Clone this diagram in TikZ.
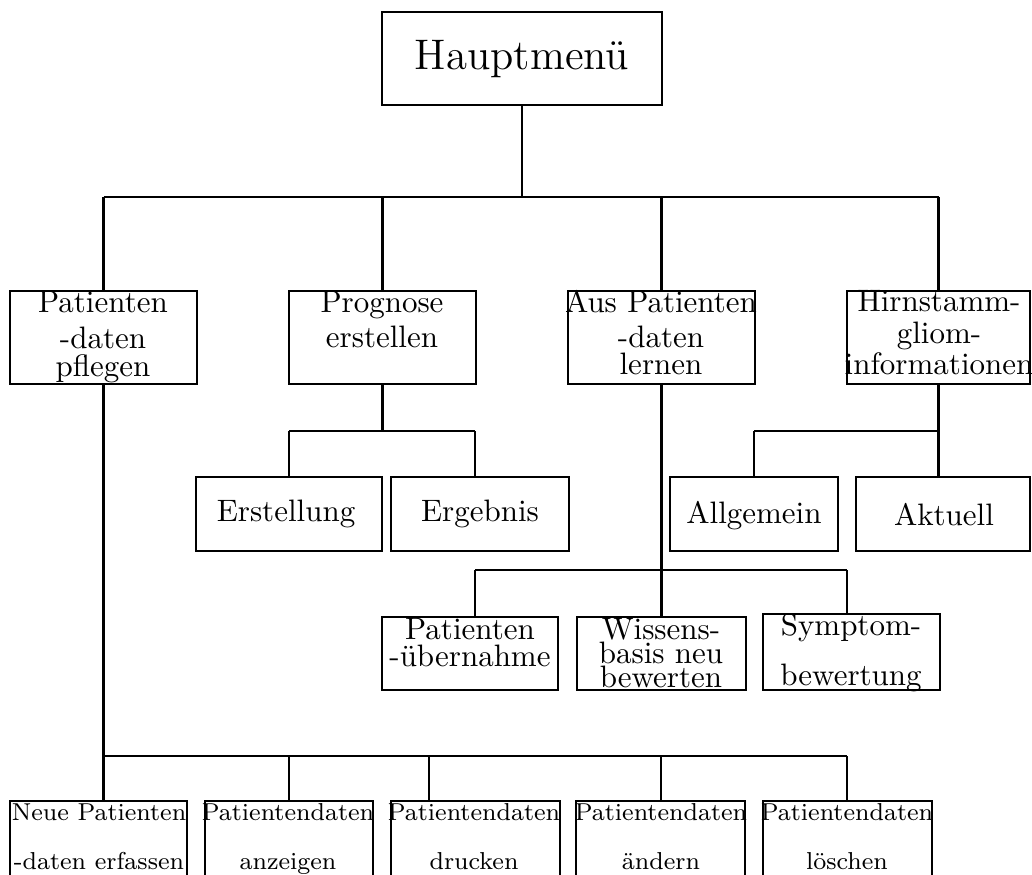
\documentclass[tikz,border=0pt]{standalone}
\usepackage{tikz}

\newcommand{\pxu}{0.3226pt}

\begin{document}
\begin{tikzpicture}[x=0.3226pt, y=-0.3226pt]
        \tikzstyle{box} = [draw, line width=0.8pt, inner sep=0pt]
        \tikzstyle{line} = [line width=0.75pt]
        \tikzstyle{txt} = [inner sep=0pt, anchor=base, align=center, font=\fontsize{10}{12}\selectfont]
        \tikzstyle{small} = [txt, font=\fontsize{7.9}{15.8}\selectfont]
        \useasboundingbox (0,0) rectangle (1032,875);
        \clip (0,0) rectangle (1032,875);

        % boxes
        \node[box, minimum width=280*\pxu, minimum height=93*\pxu] (haupt) at (522,58.5) {};
        \node[box, minimum width=187*\pxu, minimum height=93*\pxu] (pflegen) at (103.5,337.5) {};
        \node[box, minimum width=187*\pxu, minimum height=93*\pxu] (prog) at (382.5,337.5) {};
        \node[box, minimum width=187*\pxu, minimum height=93*\pxu] (lernen) at (661.5,337.5) {};
        \node[box, minimum width=183*\pxu, minimum height=93*\pxu] (hirn) at (938.5,337.5) {};
        \node[box, minimum width=186*\pxu, minimum height=74*\pxu] (erst) at (289,514) {};
        \node[box, minimum width=178*\pxu, minimum height=74*\pxu] (ergeb) at (480,514) {};
        \node[box, minimum width=168*\pxu, minimum height=74*\pxu] (allg) at (754,514) {};
        \node[box, minimum width=174*\pxu, minimum height=74*\pxu] (aktuell) at (943,514) {};
        \node[box, minimum width=176*\pxu, minimum height=73*\pxu] (uebern) at (470,653.5) {};
        \node[box, minimum width=169*\pxu, minimum height=73*\pxu] (wissen) at (661.5,653.5) {};
        \node[box, minimum width=177*\pxu, minimum height=76*\pxu] (sympt) at (851.5,652) {};
        \node[box, minimum width=177*\pxu, minimum height=100*\pxu] (neu) at (98.5,851) {};
        \node[box, minimum width=168*\pxu, minimum height=100*\pxu] (anz) at (289,851) {};
        \node[box, minimum width=169*\pxu, minimum height=100*\pxu] (druck) at (475.5,851) {};
        \node[box, minimum width=169*\pxu, minimum height=100*\pxu] (aend) at (660.5,851) {};
        \node[box, minimum width=169*\pxu, minimum height=100*\pxu] (loesch) at (847.5,851) {};

        % texts (anchored at the baseline of their last line)
        \node[txt, font=\fontsize{13.8}{16}\selectfont] (hauptT) at (522,70) {Hauptmenü};
        \node[txt, font=\fontsize{10}{9.35}\selectfont] (pflegenT) at (103,377) {Patienten\\[1.95pt]-daten\\pflegen};
        \node[txt, font=\fontsize{10}{11.3}\selectfont] (progT) at (382,348) {Prognose\\erstellen};
        \node[txt, font=\fontsize{10}{8.9}\selectfont] (lernenT) at (661,375) {Aus Patienten\\[2.4pt]-daten\\lernen};
        \node[txt, font=\fontsize{10}{10.2}\selectfont] (hirnT) at (939,375) {Hirnstamm-\\gliom-\\informationen};
        \node[txt] (erstT) at (286,521) {Erstellung};
        \node[txt] (ergebT) at (480,521) {Ergebnis};
        \node[txt] (allgT) at (754,523) {Allgemein};
        \node[txt] (aktuellT) at (944,525) {Aktuell};
        \node[txt, font=\fontsize{10}{8.5}\selectfont] (uebernT) at (470,666) {Patienten\\-übernahme};
        \node[txt, font=\fontsize{10}{7.8}\selectfont] (wissenT) at (661,687.5) {Wissens-\\basis neu\\bewerten};
        \node[txt, font=\fontsize{10}{16}\selectfont] (symptT) at (851,685.5) {Symptom-\\bewertung};
        \node[small] (neuT) at (99,869) {Neue Patienten\\-daten erfassen};
        \node[small] (anzT) at (288,869) {Patientendaten\\anzeigen};
        \node[small] (druckT) at (474,869) {Patientendaten\\drucken};
        \node[small] (aendT) at (661,869) {Patientendaten\\ändern};
        \node[small] (loeschT) at (847,869) {Patientendaten\\löschen};

        % junctions
        \coordinate (hBus) at (522,197);
        \coordinate (ergJ) at (475,431);
        \coordinate (hirnJ) at (939,431);
        \coordinate (uebJ) at (475,570);
        \coordinate (symJ) at (847,570);
        \coordinate (dNeu) at (103.5,756);
        \coordinate (dAnz) at (289,756);
        \coordinate (dDruck) at (429,756);
        \coordinate (dAend) at (661,756);
        \coordinate (dLoesch) at (847,756);

        \path[line]
        (haupt.south) edge (hBus)
        (pflegen.north |- hBus) edge (hirn.north |- hBus)
        (prog.south) edge (prog.south |- ergJ)
        (erst.north |- ergJ) edge (ergJ)
        (ergJ) edge (ergJ |- ergeb.north)
        (hirn.south) edge (hirn.south |- aktuell.north)
        (allg.north |- hirnJ) edge (hirnJ)
        (lernen.south) edge (lernen.south |- wissen.north)
        (uebJ) edge (symJ)
        (uebJ) edge (uebJ |- uebern.north)
        (symJ) edge (symJ |- sympt.north)
        (pflegen.south) edge (dNeu)
        (dNeu) edge (dLoesch);
        \foreach \c in {pflegen, prog, lernen, hirn}
            \draw[line] (\c.north |- hBus) -- (\c.north);
        \foreach \c in {erst, allg}
            \draw[line] (\c.north |- ergJ) -- (\c.north);
        \foreach \d/\c in {dNeu/neu, dAnz/anz, dDruck/druck, dAend/aend, dLoesch/loesch}
            \draw[line] (\d) -- (\d |- \c.north);
\end{tikzpicture}
\end{document}
